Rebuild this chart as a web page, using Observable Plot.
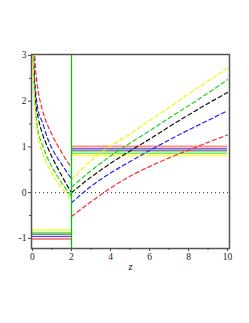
<!DOCTYPE html>
<html>
<head>
<meta charset="utf-8">
<script src="https://cdn.jsdelivr.net/npm/d3@7"></script>
<script src="https://cdn.jsdelivr.net/npm/@observablehq/plot@0.6"></script>
<style>
  html, body { margin: 0; padding: 0; background: white; }
</style>
</head>
<body>
<div id="chart"></div>
<script>
// Series names and colours
const seriesNames = ["red", "blue", "black", "green", "yellow"];
const seriesColors = ["#ff2a2a", "#2020ff", "#111111", "#1ed21e", "#f5f500"];

// Left branch (0 < z <= 2), dashed decaying curves
const leftZ = [0.03, 0.05, 0.1, 0.15, 0.2, 0.3, 0.5, 0.75, 1.0, 1.25, 1.5, 1.75, 2.0];
const leftRed    = [4.2, 3.75, 3.2, 2.74, 2.52, 2.2, 1.82, 1.5, 1.27, 1.06, 0.88, 0.7, 0.55];
const leftBlue   = [3.6, 3.2, 2.6, 2.28, 2.05, 1.78, 1.55, 1.22, 0.97, 0.78, 0.62, 0.46, 0.3];
const leftBlack  = [3.4, 3.0, 2.4, 2.08, 1.85, 1.62, 1.3, 1.02, 0.78, 0.57, 0.37, 0.18, 0.0];
const leftGreen  = [3.2, 2.8, 2.2, 1.85, 1.6, 1.32, 1.05, 0.78, 0.56, 0.38, 0.21, 0.06, -0.08];
const leftYellow = [3.0, 2.6, 2.05, 1.72, 1.5, 1.2, 0.88, 0.62, 0.42, 0.25, 0.1, -0.04, -0.17];

// Right branch (2 <= z <= 10), dashed rising curves
const rightZ = [2, 3, 4, 5, 6, 7, 8, 9, 10];
const rightRed    = [-0.52, -0.2, 0.1, 0.36, 0.57, 0.76, 0.93, 1.1, 1.26];
const rightBlue   = [-0.22, 0.14, 0.43, 0.68, 0.92, 1.15, 1.37, 1.58, 1.79];
const rightBlack  = [0.0, 0.34, 0.64, 0.91, 1.17, 1.44, 1.70, 1.95, 2.19];
const rightGreen  = [0.12, 0.48, 0.8, 1.08, 1.35, 1.63, 1.9, 2.18, 2.47];
const rightYellow = [0.28, 0.7, 1.02, 1.28, 1.58, 1.86, 2.16, 2.44, 2.72];

// Horizontal solid levels
const leftLevels  = [-1.01, -0.96, -0.91, -0.87, -0.81];  // z in [0,2]
const rightLevels = [1.01, 0.96, 0.92, 0.86, 0.81];       // z in [2,10]
const levelColors = ["#ff8c8c", "#3a3aff", "#888888", "#66ee66", "#ffff33"];
const levelWidths = [2, 1, 2, 1.5, 1.5];

// Ticks
const xTicks = [0, 2, 4, 6, 8, 10];
const xMinor = [1, 3, 5, 7, 9];
const yTicks = [-1, 0, 1, 2, 3];
const yMinor = [-0.5, 0.5, 1.5, 2.5];
const xLabel = "z";

const leftSeries = [leftRed, leftBlue, leftBlack, leftGreen, leftYellow];
const rightSeries = [rightRed, rightBlue, rightBlack, rightGreen, rightYellow];

const curveRows = [];
seriesNames.forEach((name, i) => {
  leftZ.forEach((z, j) => curveRows.push({branch: "L-" + name, series: name, z, v: leftSeries[i][j]}));
  rightZ.forEach((z, j) => curveRows.push({branch: "R-" + name, series: name, z, v: rightSeries[i][j]}));
});

const levelRows = [];
seriesNames.forEach((name, i) => {
  levelRows.push({series: name, x1: 0, x2: 2, y: leftLevels[i], c: levelColors[i], w: levelWidths[i]});
  levelRows.push({series: name, x1: 2, x2: 10, y: rightLevels[i], c: levelColors[i], w: levelWidths[i]});
});

const colorOf = Object.fromEntries(seriesNames.map((n, i) => [n, seriesColors[i]]));

const chart = Plot.plot({
  width: 249,
  height: 323,
  marginLeft: 31,
  marginRight: 20,
  marginTop: 54,
  marginBottom: 75,
  x: {domain: [-0.05, 10.1]},
  y: {domain: [-1.22, 3.02]},
  style: {fontFamily: "'Liberation Serif', 'DejaVu Serif', serif", fontSize: "9.5px", background: "white", color: "#222"},
  marks: [
    Plot.ruleY([0], {stroke: "#222", strokeDasharray: "1,3", strokeWidth: 1}),
    ...levelRows.map(r => Plot.ruleY([r.y], {x1: r.x1, x2: r.x2, stroke: r.c, strokeWidth: r.w})),
    ...seriesNames.map(name => Plot.line(curveRows.filter(d => d.series === name), {
      x: "z", y: "v", z: "branch", stroke: colorOf[name], strokeWidth: 1.2,
      strokeDasharray: "4,3", curve: "monotone-x", clip: true
    })),
    Plot.ruleX([2], {stroke: "#00cc00", strokeWidth: 1.3}),
    Plot.frame({stroke: "#555", strokeWidth: 1.5}),
    Plot.axisX(xTicks, {tickSize: 3, tickPadding: 2, tickFormat: d => String(d), label: null, stroke: "#444"}),
    Plot.axisX(xMinor, {tickSize: 2, tickFormat: () => "", label: null, stroke: "#444"}),
    Plot.axisY(yTicks, {tickSize: 3, tickPadding: 2, tickFormat: d => d < 0 ? "-" + Math.abs(d) : String(d), label: null, stroke: "#444"}),
    Plot.axisY(yMinor, {tickSize: 2, tickFormat: () => "", label: null, stroke: "#444"}),
    Plot.text([xLabel], {frameAnchor: "bottom", dy: 21, fontStyle: "italic", fontSize: 10.5, fill: "#222"})
  ]
});
document.getElementById("chart").appendChild(chart);
</script>
</body>
</html>
